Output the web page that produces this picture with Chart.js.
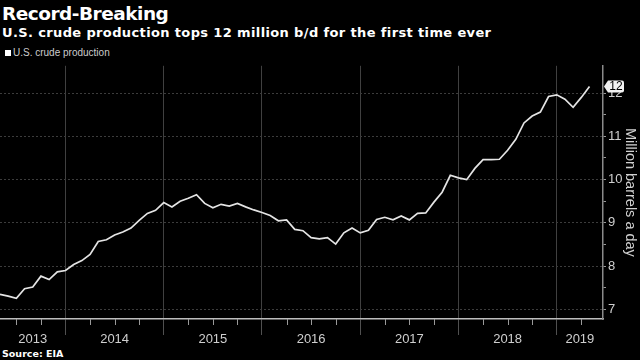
<!DOCTYPE html>
<html><head><meta charset="utf-8">
<script src="https://cdn.jsdelivr.net/npm/chart.js@4.4.1/dist/chart.umd.min.js"></script>
<style>
html,body{margin:0;padding:0;background:#000;width:640px;height:360px;overflow:hidden;}
.txt{position:absolute;white-space:nowrap;color:#fff;}
#title{left:2px;top:4px;font:bold 18.5px/19px "DejaVu Sans";letter-spacing:-0.5px;}
#subtitle{left:2px;top:26px;font:bold 13px/13px "DejaVu Sans";letter-spacing:0.37px;}
#legend{left:5px;top:48px;font:10px/10px "Liberation Sans";color:#ccc;}
#legend span.sw{display:inline-block;width:6px;height:6px;background:#fff;margin-right:2px;vertical-align:0px;}
#source{left:2px;top:349px;font:bold 9.5px/9.5px "DejaVu Sans";}
#wrap{position:absolute;left:0;top:56px;width:640px;height:292px;}
</style>
</head><body>
<div id="title" class="txt">Record-Breaking</div>
<div id="subtitle" class="txt">U.S. crude production tops 12 million b/d for the first time ever</div>
<div id="legend" class="txt"><span class="sw"></span>U.S. crude production</div>
<div id="source" class="txt">Source: EIA</div>
<div id="wrap"><canvas id="c" width="640" height="292"></canvas></div>
<script>
// ---- data ----
const months = [
  '2013-04','2013-05','2013-06','2013-07','2013-08','2013-09','2013-10','2013-11','2013-12',
  '2014-01','2014-02','2014-03','2014-04','2014-05','2014-06','2014-07','2014-08','2014-09','2014-10','2014-11','2014-12',
  '2015-01','2015-02','2015-03','2015-04','2015-05','2015-06','2015-07','2015-08','2015-09','2015-10','2015-11','2015-12',
  '2016-01','2016-02','2016-03','2016-04','2016-05','2016-06','2016-07','2016-08','2016-09','2016-10','2016-11','2016-12',
  '2017-01','2017-02','2017-03','2017-04','2017-05','2017-06','2017-07','2017-08','2017-09','2017-10','2017-11','2017-12',
  '2018-01','2018-02','2018-03','2018-04','2018-05','2018-06','2018-07','2018-08','2018-09','2018-10','2018-11','2018-12',
  '2019-01','2019-02','2019-03','2019-04'
];
const production = [
  7.35,7.31,7.26,7.48,7.52,7.77,7.69,7.87,7.90,
  8.04,8.13,8.27,8.57,8.61,8.72,8.79,8.88,9.06,9.22,9.29,9.47,
  9.37,9.50,9.57,9.65,9.45,9.35,9.43,9.39,9.45,9.37,9.30,9.24,
  9.17,9.05,9.07,8.85,8.82,8.66,8.63,8.66,8.51,8.77,8.88,8.77,
  8.83,9.08,9.13,9.07,9.16,9.07,9.22,9.23,9.48,9.71,10.10,10.04,
  10.00,10.26,10.46,10.46,10.47,10.68,10.93,11.31,11.47,11.56,11.92,11.96,
  11.86,11.67,11.90,12.15
];
const yearLabels = ['2013','2014','2015','2016','2017','2018','2019'];
const yTickValues = [7,8,9,10,11,12];
const yMinorValues = [7.5,8.5,9.5,10.5,11.5];

// ---- axis ranges (months since start of 2013, points at month end) ----
const X_MIN = 4, X_MAX = 77.65, Y_MIN = 6.78, Y_MAX = 12.63;
const BASE_YEAR = Number(yearLabels[0]);
const monthPos = s => { const [y, m] = s.split('-').map(Number); return (y - BASE_YEAR) * 12 + m; };
const points = months.map((m, i) => ({x: monthPos(m), y: production[i]}));
const boundaries = yearLabels.slice(1).map(y => (Number(y) - BASE_YEAR) * 12);
const centers = yearLabels.map(y => {
  const s = Math.max((Number(y) - BASE_YEAR) * 12, X_MIN);
  const e = Math.min((Number(y) - BASE_YEAR + 1) * 12, X_MAX);
  return (s + e) / 2;
});
const quarterTicks = [];
for (let v = Math.ceil(X_MIN / 3) * 3; v <= X_MAX; v += 3) if (v % 12 !== 0) quarterTicks.push(v);

const near = (a, b) => Math.abs(a - b) < 1e-6;
const isBoundary = v => boundaries.some(b => near(b, v));
const isMajorY = v => yTickValues.some(b => near(b, v));

const FONT = '"Liberation Sans Narrow","Liberation Sans",Arial,sans-serif';
Chart.defaults.font.family = FONT;

const extras = {
  id: 'extras',
  afterDraw(chart) {
    const {ctx, chartArea, scales} = chart;
    const xs = scales.x, ys = scales.y;
    ctx.save();
    // quarter minor ticks
    ctx.strokeStyle = '#9a9a9a';
    ctx.lineWidth = 1;
    quarterTicks.forEach(v => {
      const px = Math.round(xs.getPixelForValue(v)) + 0.5;
      ctx.beginPath();
      ctx.moveTo(px, chartArea.bottom);
      ctx.lineTo(px, chartArea.bottom + 6);
      ctx.stroke();
    });
    // last value badge
    const last = production[production.length - 1];
    const y = ys.getPixelForValue(last);
    const x0 = chartArea.right + 1;
    ctx.fillStyle = '#f2f2f2';
    ctx.beginPath();
    ctx.moveTo(x0, y);
    ctx.lineTo(x0 + 4, y - 6);
    ctx.lineTo(x0 + 18, y - 6);
    ctx.quadraticCurveTo(x0 + 20, y - 6, x0 + 20, y - 4);
    ctx.lineTo(x0 + 20, y + 4);
    ctx.quadraticCurveTo(x0 + 20, y + 6, x0 + 18, y + 6);
    ctx.lineTo(x0 + 4, y + 6);
    ctx.closePath();
    ctx.fill();
    ctx.fillStyle = '#000';
    ctx.font = '12px "Liberation Sans Narrow","Liberation Sans",sans-serif';
    ctx.textAlign = 'center';
    ctx.textBaseline = 'middle';
    ctx.fillText(String(Math.round(last)), x0 + 12, y + 0.5);
    ctx.restore();
  }
};

new Chart(document.getElementById('c'), {
  type: 'line',
  data: {
    datasets: [{
      label: 'U.S. crude production',
      data: points,
      borderColor: '#e4e4e4',
      borderWidth: 1.7,
      pointRadius: 0,
      tension: 0,
      clip: false
    }]
  },
  options: {
    responsive: false,
    animation: false,
    devicePixelRatio: 1,
    layout: {padding: {top: 7, left: 0, right: 0, bottom: 0}},
    plugins: {legend: {display: false}, tooltip: {enabled: false}},
    scales: {
      x: {
        type: 'linear', min: X_MIN, max: X_MAX,
        afterBuildTicks: s => { s.ticks = boundaries.concat(centers).sort((a, b) => a - b).map(v => ({value: v})); },
        afterFit: s => { s.height = 29; },
        grid: {
          color: c => (c.tick && isBoundary(c.tick.value)) ? '#404040' : 'rgba(0,0,0,0)',
          tickColor: c => (c.tick && isBoundary(c.tick.value)) ? '#505050' : 'rgba(0,0,0,0)',
          tickLength: 16, lineWidth: 1
        },
        border: {display: true, color: '#bdbdbd', width: 1.5},
        ticks: {
          color: '#cfcfcf', font: {size: 13}, padding: -3, maxRotation: 0, autoSkip: false,
          callback: v => { const i = centers.findIndex(c => near(c, v)); return i >= 0 ? yearLabels[i] : ''; }
        }
      },
      y: {
        position: 'right', min: Y_MIN, max: Y_MAX,
        afterBuildTicks: s => { s.ticks = yTickValues.concat(yMinorValues).sort((a, b) => a - b).map(v => ({value: v})); },
        afterFit: s => { s.width = 37; },
        grid: {
          color: c => (c.tick && isMajorY(c.tick.value)) ? '#3c3c3c' : 'rgba(0,0,0,0)',
          tickColor: '#9a9a9a', tickLength: 3, lineWidth: 1
        },
        border: {display: true, color: '#8a8a8a', width: 1.5, dash: [2, 2]},
        ticks: {
          color: '#cfcfcf', font: {size: 13}, padding: 2,
          callback: v => isMajorY(v) ? String(v) : ''
        },
        title: {
          display: true, text: 'Million barrels a day', color: '#d0d0d0',
          font: {size: 14.5, family: '"Liberation Sans",Arial,sans-serif'}, padding: {top: 1, bottom: 0}
        }
      }
    }
  },
  plugins: [extras]
});
</script>
</body></html>
